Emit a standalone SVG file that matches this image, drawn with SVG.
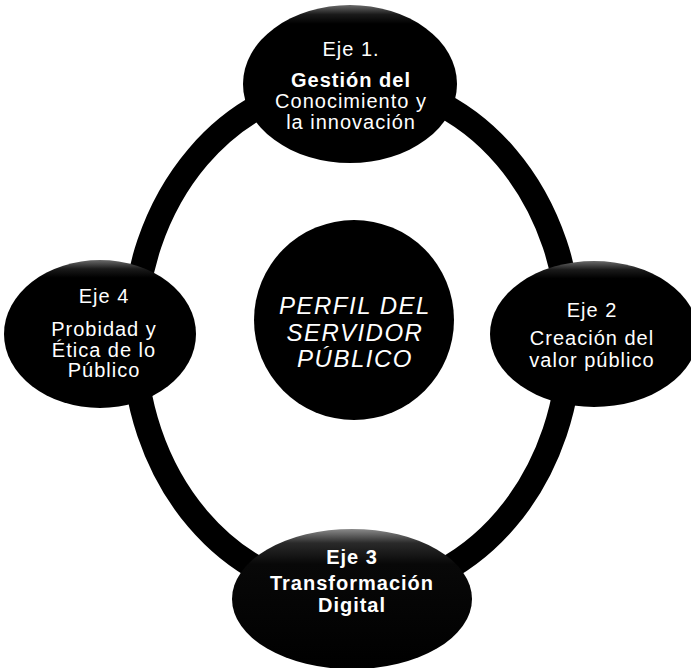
<svg xmlns="http://www.w3.org/2000/svg" width="691" height="668" viewBox="0 0 691 668">
  <defs>
    <linearGradient id="edge" x1="0" y1="0" x2="0" y2="1">
      <stop offset="0" stop-color="#6a6a6a"/>
      <stop offset="0.06" stop-color="#1a1a1a"/>
      <stop offset="0.12" stop-color="#000"/>
      <stop offset="1" stop-color="#000"/>
    </linearGradient>
    <linearGradient id="edge3" x1="0" y1="0" x2="0" y2="1">
      <stop offset="0" stop-color="#8a8a8a"/>
      <stop offset="0.1" stop-color="#2a2a2a"/>
      <stop offset="0.25" stop-color="#080808"/>
      <stop offset="1" stop-color="#000"/>
    </linearGradient>
  </defs>
  <style>
    .node { fill: url(#edge); }
    .t { fill: #fff; font-family: "Liberation Sans", Arial, sans-serif; font-size: 20px; text-anchor: middle; letter-spacing: 1px; }
    .b { font-weight: bold; }
    .c { fill: #fff; font-family: "Liberation Sans", Arial, sans-serif; font-size: 24px; font-style: italic; text-anchor: middle; letter-spacing: 1.5px; }
  </style>
  <rect width="691" height="668" fill="#fff"/>
  <g id="connectors">
    <ellipse cx="352" cy="338" rx="218" ry="256" fill="none" stroke="#000" stroke-width="25"/>
  </g>
  <g id="center">
    <circle cx="354" cy="320" r="100" fill="#000"/>
    <text class="c" x="355" y="314">PERFIL DEL</text>
    <text class="c" x="355" y="341">SERVIDOR</text>
    <text class="c" x="355" y="367">PÚBLICO</text>
  </g>
  <g id="eje1">
    <ellipse class="node" cx="350" cy="84" rx="107" ry="79"/>
    <text class="t" x="351" y="56">Eje 1.</text>
    <text class="t b" x="351" y="87">Gestión del</text>
    <text class="t" x="351" y="108">Conocimiento y</text>
    <text class="t" x="351" y="129">la innovación</text>
  </g>
  <g id="eje4">
    <ellipse class="node" cx="100" cy="334" rx="96" ry="74"/>
    <text class="t" x="104" y="303">Eje 4</text>
    <text class="t" x="104" y="336">Probidad y</text>
    <text class="t" x="104" y="357">Ética de lo</text>
    <text class="t" x="104" y="377">Público</text>
  </g>
  <g id="eje2">
    <ellipse class="node" cx="594" cy="334" rx="104" ry="73"/>
    <text class="t" x="592" y="317">Eje 2</text>
    <text class="t" x="592" y="345">Creación del</text>
    <text class="t" x="592" y="367">valor público</text>
  </g>
  <g id="eje3">
    <ellipse cx="352" cy="599" rx="120" ry="70" fill="url(#edge3)"/>
    <text class="t b" x="352" y="564">Eje 3</text>
    <text class="t b" x="352" y="590">Transformación</text>
    <text class="t b" x="352" y="612">Digital</text>
  </g>
</svg>
